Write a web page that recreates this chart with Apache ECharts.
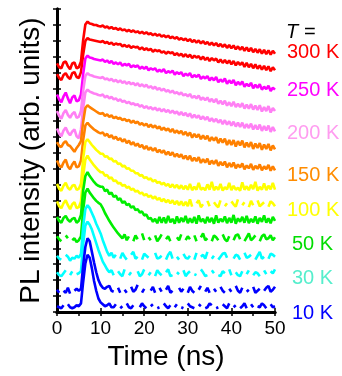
<!DOCTYPE html>
<html>
<head>
<meta charset="utf-8">
<script src="https://cdn.jsdelivr.net/npm/echarts@6/dist/echarts.min.js"></script>
<style>
  html, body { margin: 0; padding: 0; background: #fff; }
  #chart { width: 342px; height: 376px; }
</style>
</head>
<body>
<div id="chart"></div>
<script>
// time axis (ns), 0.5 ns steps, shared by every trace
const times = [0, 0.5, 1, 1.5, 2, 2.5, 3, 3.5, 4, 4.5, 5,
  5.5, 6, 6.5, 7, 7.5, 8, 8.5, 9, 9.5, 10,
  10.5, 11, 11.5, 12, 12.5, 13, 13.5, 14, 14.5, 15, 15.5, 16, 16.5, 17, 17.5, 18, 18.5, 19, 19.5, 20,
  20.5, 21, 21.5, 22, 22.5, 23, 23.5, 24, 24.5, 25, 25.5, 26, 26.5, 27, 27.5, 28, 28.5, 29, 29.5, 30,
  30.5, 31, 31.5, 32, 32.5, 33, 33.5, 34, 34.5, 35, 35.5, 36, 36.5, 37, 37.5, 38, 38.5, 39, 39.5, 40,
  40.5, 41, 41.5, 42, 42.5, 43, 43.5, 44, 44.5, 45, 45.5, 46, 46.5, 47, 47.5, 48, 48.5, 49, 49.5, 50];

const xTicks = [0, 10, 20, 30, 40, 50];

// PL traces (arb. units, already offset), top to bottom
const trRed1 = [256, 252, 251, 257, 258, 253, 250, 256, 257, 251, 252,
  258, 280, 296, 299, 297, 296.5, 295.5, 295.5, 294.5, 294,
  295, 293, 294, 292, 293.5, 291.5, 292.5, 290.5, 292, 290, 291, 289, 290.5, 288.5, 290, 288, 289, 287, 288.5, 286.5,
  288, 286, 287, 285, 286.5, 284.5, 286, 283.5, 285, 283, 284.5, 282, 283.5, 281.5, 283, 280.5, 282, 280, 281.5, 279,
  281, 278, 280, 277.5, 279.5, 276.5, 279, 276, 278, 275, 277.5, 274.5, 277, 273.5, 276, 273, 275.5, 272, 275, 271.5,
  274.5, 270.5, 273.5, 270, 273, 269, 272.5, 268.5, 272, 267.5, 271, 267, 270.5, 266, 270, 265.5, 269.5, 265, 269, 266];
const trRed2 = [245, 241, 239, 244, 246, 242, 240, 246, 247, 242, 241,
  247, 265, 279, 282, 280.5, 280, 279.5, 279, 278.5, 278,
  279, 277, 278, 276, 277.5, 275, 276.5, 275.5, 276, 273.5, 275, 273, 274.5, 272, 273.5, 272.5, 273, 270.5, 272.5, 270,
  271.5, 269.5, 271, 268, 270, 268.5, 269.5, 267, 268.5, 266, 268, 266.5, 267.5, 264.5, 266.5, 264, 266, 263, 265.5, 262.5,
  265, 261.5, 264, 262, 263.5, 260, 263, 259.5, 262, 258.5, 261.5, 259, 261, 257, 260, 256.5, 259.5, 256, 259, 255,
  258.5, 254, 257.5, 254.5, 257, 252.5, 256.5, 252, 255.5, 251, 255, 250.5, 254, 249.5, 253.5, 249, 253, 248, 252, 249];
const trMagenta = [224, 219, 216, 222, 226, 220, 215, 221, 223, 217, 218,
  224, 245, 261, 264, 262, 261.5, 260.5, 260, 259.5, 259,
  260, 257.5, 259, 256.5, 258.5, 255.5, 257, 255, 257, 253.5, 255.5, 254, 255.5, 252, 254, 252.5, 254, 250.5, 252.5, 250.5,
  252.5, 249, 251, 249.5, 251, 247.5, 249.5, 247.5, 250, 246, 248, 246.5, 248.5, 244.5, 247, 245, 247, 243, 245.5, 243.5,
  246, 241.5, 244, 242, 244.5, 240, 242.5, 240.5, 243, 238.5, 241.5, 238.5, 242, 236.5, 239.5, 237, 240.5, 235, 238.5, 235.5,
  239, 233.5, 237, 234, 237.5, 232, 235, 232.5, 236, 230.5, 234, 231, 234.5, 229, 232, 229.5, 233, 227.5, 231, 229];
const trPink1 = [207, 202, 199, 205, 208, 203, 200, 204, 206, 200, 201,
  207, 228, 243, 246, 244, 243.5, 242.5, 242, 241.5, 241,
  242, 239.5, 240.5, 238.5, 240, 237.5, 239, 236.5, 238.5, 236, 237.5, 235, 237, 234.5, 236, 233.5, 235.5, 232.5, 234.5, 232,
  234, 231, 232.5, 230, 232, 229, 230.5, 228, 230, 227, 228.5, 226, 228, 225, 226.5, 224, 226, 223, 224.5, 222,
  224.5, 220.5, 222.5, 220, 223, 218.5, 221, 218, 221, 216.5, 219.5, 216, 219.5, 214.5, 217.5, 214, 217.5, 212.5, 216, 212,
  216.5, 211, 214.5, 211, 215, 209.5, 213.5, 209.5, 214, 208.5, 212.5, 208, 213, 206.5, 211, 207, 212, 205.5, 210, 207];
const trPink2 = [189, 184, 181, 187, 190, 185, 182, 186, 188, 181, 179,
  188, 210, 226, 229, 227, 226, 225, 224.5, 223.5, 223,
  224, 221, 222.5, 220, 221.5, 219, 220, 217.5, 219, 216.5, 217.5, 215, 216.5, 214, 215, 213, 214, 211.5, 213, 210,
  212, 209.5, 211, 208.5, 210.5, 207.5, 209.5, 206.5, 209, 206, 208, 205, 207.5, 204.5, 206.5, 203, 206, 202.5, 205, 201.5,
  204.5, 200, 203, 200, 202.5, 198.5, 201.5, 198, 201, 196.5, 199.5, 196, 199, 195, 198, 193.5, 197.5, 193, 196.5, 192,
  196, 191, 195, 190.5, 195, 189.5, 193.5, 189.5, 194, 188, 192.5, 188, 193, 186.5, 191.5, 187, 192, 185.5, 190.5, 186];
const trOrange1 = [175, 171, 170, 174, 176, 172, 171, 168, 165, 169, 172,
  176, 196, 210, 213, 211, 209.5, 208, 206.5, 205, 204,
  205, 202, 203.5, 201, 202.5, 199.5, 201, 199, 200, 197.5, 199, 196.5, 198, 195, 197, 194.5, 196, 193, 194.5, 192,
  194, 190.5, 193, 190, 192, 189, 191, 187.5, 190, 187, 189, 185.5, 188.5, 184.5, 187, 184, 186.5, 182.5, 185.5, 181.5,
  185, 179.5, 183.5, 180, 183, 178, 182, 178, 181.5, 176, 180, 176.5, 180, 174, 178.5, 174.5, 178.5, 172, 177, 172,
  177, 170.5, 176, 171.5, 176.5, 169.5, 174.5, 170, 175, 168, 173.5, 169, 174, 167, 172.5, 168, 173, 166.5, 171.5, 167.5];
const trOrange2 = [156, 151, 149, 154, 157, 150, 147, 152, 155, 149, 150,
  156, 177, 192, 195, 192, 190, 188, 186.5, 185, 184,
  185, 181.5, 183.5, 180, 182, 178.5, 180.5, 177, 179, 175.5, 178, 174, 176.5, 172.5, 175, 171, 173.5, 170, 172, 168,
  171, 167, 169.5, 166, 169, 164.5, 167, 164, 166.5, 162, 165, 161.5, 164.5, 160, 163, 159.5, 162.5, 158, 161, 157,
  161, 155.5, 159, 155.5, 159.5, 153.5, 157.5, 154, 158, 152, 156, 152.5, 156.5, 150.5, 154.5, 151, 155, 149, 153.5, 149.5,
  154, 148, 152, 149, 153, 147, 151, 148, 152.5, 146.5, 150.5, 147.5, 152, 146, 150, 147, 151.5, 145.5, 150, 146];
const trYellow1 = [132, 127, 125, 130, 133, 128, 126, 130, 131, 126, 127,
  132, 158, 175, 178, 175, 172, 169.5, 167, 165, 163,
  163, 160, 160.5, 157.5, 158, 155, 155.5, 152.5, 153, 150, 150.5, 147.5, 148, 145.5, 145.5, 143, 143, 140.5, 141, 138,
  139, 136.5, 137.5, 134.5, 136, 133, 134, 131.5, 133, 130, 132, 128.5, 131.5, 128, 131, 127, 130.5, 126.5, 130, 126,
  132, 125.5, 129, 126, 133, 126, 128, 125.5, 131.5, 126, 134, 125.5, 129, 126, 132, 125, 128.5, 126.5, 133, 125.5,
  130, 126, 128, 125, 133.5, 126, 129.5, 125.5, 131, 126.5, 134, 125, 129, 126, 132.5, 125.5, 130, 126.5, 133, 126];
const trYellow2 = [114, 109, 107, 112, 115, 110, 106, 111, 113, 107, 108,
  114, 140, 157, 161, 157, 154, 151, 148.5, 146, 144,
  144, 140.5, 141, 137.5, 138.5, 135, 135.5, 132.5, 133, 130, 131, 128, 129, 126, 127, 124, 125, 122, 123, 120,
  121.5, 118.5, 120, 117, 119, 115.5, 117.5, 114, 116.5, 113, 115.5, 112, 115, 111, 114.5, 110, 114, 109.5, 113.5, 109,
  116, 108.5, null, 112, 115, 108, 111, null, 114.5, 109, null, 113, 110, 108, 115, null, 109, 112, null, 114,
  111, 108.5, 116, null, 110, 113, null, 108, 114.5, 110, null, 115, 109, 111, 113, null, 108.5, 114, 112, 109];
const trGreen1 = [98, 94, 92, 97, 99, 95, 93, 96, 97, 92, 94,
  100, 125, 140, 144, 140, 137, 134, 131.5, 130, 129,
  129, 124.5, 126, 121.5, 123, 118.5, 120, 115.5, 117, 112.5, 114, 110, 111.5, 107.5, 109, 105, 106, 102.5, 103.5, 99.5,
  100.5, 96, 97, 93, 96, 91.5, 98, 92, 97.5, 91.5, 99, 92.5, 96, 91, 98.5, 92, 97, 93, 99, 91.5,
  96.5, 92, 98, 91, 99.5, 93, 96, 91.5, 98, 92.5, 97, 91, 99.5, 92, 96, 93, 98.5, 91.5, 97, 92,
  100, 91, 96.5, 93, 98, 92, 99, 91.5, 96, 92.5, 98.5, 91, 97, 93, 99.5, 92, 96.5, 91.5, 98, 94];
const trGreen2 = [78, 75, 73, null, 79, 76, null, 74, 76, 72, 74,
  78, 105, 123, 127, 123, 120, 117, 114.5, 112.5, 111,
  107, 102, 98, 94, 90.5, 87, 84, 81, 78.5, 76, 80, 74, 78, null, 73, 79, 75, null, 81, 74,
  null, 77, 74, null, 79, 73, 76, 80, null, 75, 78, 73, null, null, 77, 74, 80, null, 74, 78,
  75, null, 79, 73, null, 77, 81, 74, 76, null, 73, 79, 77, 74, null, 80, 75, 73, 78, null,
  74, 79, 80, 75, null, 73, 77, 81, 74, 76, 79, null, 73, 78, 80, 75, 76, 79, 74, 77];
const trCyan1 = [58, 55, 54, null, 59, 57, 53, 56, 55, 58, 56,
  60, 88, 106, 110, 107, 102, 97, 91, 86, 81,
  74, 68, 62, 58, 61, 56, 59, null, 55, 61, 57, 54, null, 59, 62, 55, 57, null, 54, 60,
  58, 56, null, null, 61, 55, 56, 58, null, 54, 59, 62, 55, null, 57, 54, null, 60, 56, 55,
  58, null, 54, 61, null, 57, 59, 55, 62, null, 55, 58, null, 54, 57, 60, 61, 56, null, null,
  55, 59, 58, 54, null, 61, 56, 57, 59, null, 54, 58, 62, 55, 57, null, 55, 60, 59, 57];
const trCyan2 = [41, 38, 37, 40, 43, null, 38, 42, null, 39, 40,
  42, 70, 89, 93, 90, 85, 78, 71, 64, 58,
  52, 48, 44, 41, 43, 38, null, 42, 39, 37, 44, null, 38, 41, null, null, 42, 37, 39, 44,
  null, 38, 41, null, 37, 43, 40, 38, null, 41, 44, 37, 38, null, 41, 39, null, 43, 37, 40,
  42, null, 39, 38, null, 44, 41, 37, 38, null, 43, 40, null, 38, 37, 42, 40, null, 44, 38,
  null, 41, 38, 37, 42, null, 39, 43, null, 38, 41, 40, 37, null, 43, 39, null, 42, 40, 44];
const trBlue1 = [23, 20, null, 22, 20, 25, 19, null, 22, 24, 22,
  24, 48, 67, 76, 73, 62, 51, 41, 33, 28,
  25, 24, 26, 27, 22, 21, null, 25, 20, null, 23, 20, null, 26, 21, 23, 28, null, 20, 24,
  null, null, 22, 26, 20, null, 25, 21, null, 23, 27, 20, 22, null, null, 25, 21, 24, null, 20,
  26, 22, 20, null, 23, 27, null, 21, 25, 20, null, 24, 21, null, 26, 22, 20, null, 24, 21,
  null, 27, 22, 20, 25, null, 21, 23, null, 26, 20, 22, 24, null, 22, 25, 27, 21, 23, 26];
const trBlue2 = [6, 5, 4, 7, null, 8, 5, 4, 5, 7, 6,
  9, 31, 50, 59, 56, 45, 32, 22, 14, 10,
  8, 6, 7, 9, 5, 5, 8, null, 4, 6, null, 9, 5, 4, 7, null, null, 5, 9, 6,
  4, null, 6, 8, null, 4, 5, null, 9, 6, 4, 7, null, 5, 8, null, 5, 4, null, 9,
  6, 5, 4, null, 8, 6, null, 4, 5, 9, 7, null, 4, 5, null, 8, 6, 4, 9, null,
  5, 7, null, 4, 6, 9, 4, null, 8, 5, null, 6, 5, 9, 7, 4, null, 8, 5, 6];

const traces = [trRed1, trRed2, trMagenta, trPink1, trPink2, trOrange1, trOrange2,
  trYellow1, trYellow2, trGreen1, trGreen2, trCyan1, trCyan2, trBlue1, trBlue2];
const traceColors = ["#ff0000", "#ff0000", "#ff00ff", "#ff80f4", "#ff80f4", "#ff8000", "#ff8000",
  "#ffff00", "#ffff00", "#00ee00", "#00ee00", "#00ffff", "#00ffff", "#0000ff", "#0000ff"];

// temperature labels on the right
const tempLabels = ["300 K", "250 K", "200 K", "150 K", "100 K", "50 K", "30 K", "10 K"];
const tempColors = ["#ff0000", "#ff00ff", "#ff9cf0", "#ff8c00", "#ffff00", "#00dd00", "#55eecc", "#0000ff"];

const font = "'Liberation Sans', Arial, sans-serif";
const yMax = 312;
const yStep = yMax / 19;

const chart = echarts.init(document.getElementById("chart"));

const series = traces.map((tr, i) => ({
  type: "line",
  data: times.map((t, j) => [t, tr[j]]),
  showSymbol: false,
  connectNulls: false,
  silent: true,
  lineStyle: { color: traceColors[i], width: 2.6 },
  z: 2 + i,
}));

const labelY = [52, 90, 133, 175, 210, 244, 278, 313];
const labelX = [287, 287, 287, 287, 287, 292, 292, 292];
const graphics = [
  {
    type: "text", x: 286, y: 32,
    style: { text: "T =", fontFamily: font, fontSize: 20, fill: "#000", fontStyle: "italic", verticalAlign: "middle" },
  },
].concat(tempLabels.map((s, i) => ({
  type: "text", x: labelX[i], y: labelY[i],
  style: { text: s, fontFamily: font, fontSize: 20, fill: tempColors[i], verticalAlign: "middle" },
})));

const frameAxis = {
  axisLine: { show: true, lineStyle: { color: "#000", width: 3 } },
  axisTick: { show: true, inside: true, length: 4, lineStyle: { color: "#000", width: 1.5 } },
  splitLine: { show: false },
};

const option = {
  animation: false,
  backgroundColor: "#fff",
  grid: { left: 57, right: 67, top: 9, bottom: 55 },
  xAxis: [
    Object.assign({}, frameAxis, {
      type: "value", position: "bottom", min: 0, max: 50, interval: 10,
      name: "Time (ns)", nameLocation: "middle", nameGap: 24,
      nameTextStyle: { fontFamily: font, fontSize: 28, color: "#000" },
      axisLabel: {
        fontFamily: font, fontSize: 19, color: "#000", margin: 7,
        formatter: (v) => (xTicks.includes(v) ? String(v) : ""),
      },
    }),
    Object.assign({}, frameAxis, {
      type: "value", position: "top", min: 0, max: 50, interval: 5,
      axisLabel: { show: false },
    }),
  ],
  yAxis: [
    Object.assign({}, frameAxis, {
      type: "value", position: "left", min: 0, max: yMax, interval: yStep,
      name: "PL intensity (arb. units)", nameLocation: "middle", nameGap: 12,
      nameTextStyle: { fontFamily: font, fontSize: 28, color: "#000" },
      axisLabel: { show: false },
    }),
    Object.assign({}, frameAxis, {
      type: "value", position: "right", min: 0, max: yMax, interval: yStep,
      axisLabel: { show: false },
    }),
  ],
  series: series,
  graphic: graphics,
};

chart.setOption(option);
</script>
</body>
</html>
